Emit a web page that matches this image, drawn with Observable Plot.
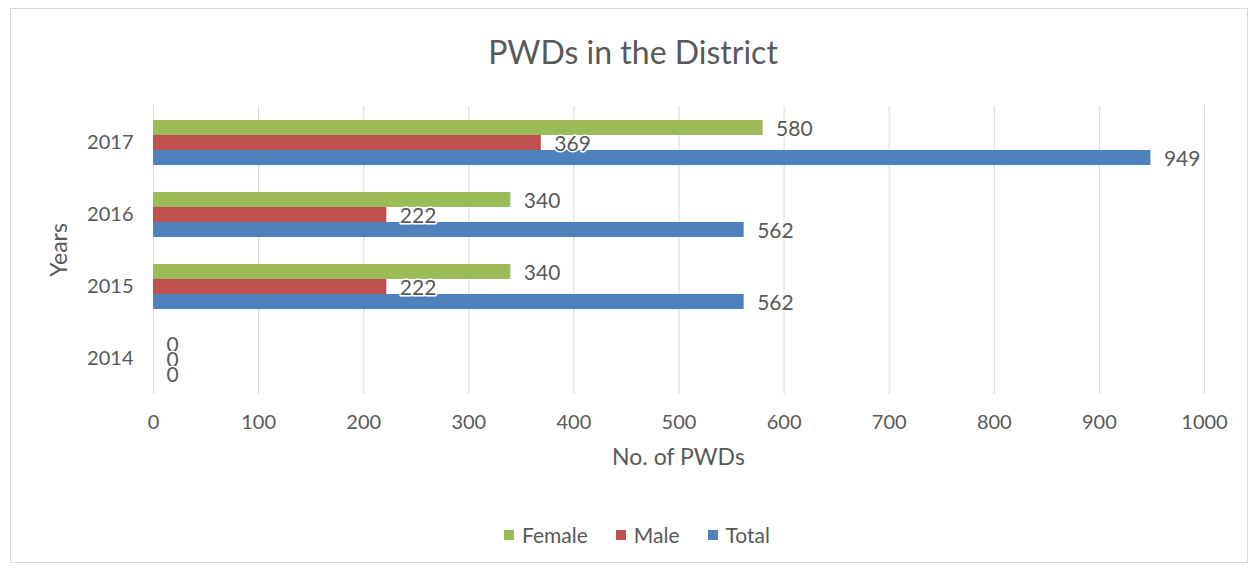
<!DOCTYPE html>
<html>
<head>
<meta charset="utf-8">
<script src="https://cdn.jsdelivr.net/npm/d3@7"></script>
<script src="https://cdn.jsdelivr.net/npm/@observablehq/plot@0.6"></script>
<style>
  html, body { margin: 0; padding: 0; background: #fff; }
  body { width: 1258px; height: 569px; position: relative; overflow: hidden; font-family: Lato, "Open Sans", sans-serif; color: #595959; }
  #frame { position: absolute; left: 10px; top: 8px; width: 1238px; height: 555px; border: 1px solid #d9d9d9; box-sizing: border-box; }
  #title { position: absolute; left: 0; top: 32px; width: 1266px; text-align: center; font-size: 32px; line-height: 40px; color: #595959; }
  #chart { position: absolute; left: 0; top: 100px; }
  #legend { position: absolute; left: 0; top: 522px; width: 1274px; display: flex; justify-content: center; gap: 28px; font-size: 21px; line-height: 26px; color: #595959; }
  #legend .item { display: flex; align-items: center; gap: 8px; }
  #legend .sw { width: 10px; height: 10px; display: inline-block; }
</style>
</head>
<body>
<div id="frame"></div>
<div id="title">PWDs in the District</div>
<div id="chart"></div>
<div id="legend"></div>
<script>
// Persons with disabilities per year, by group
const years = ["2014", "2015", "2016", "2017"];
const female = [0, 340, 340, 580];
const male = [0, 222, 222, 369];
const total = [0, 562, 562, 949];

const series = ["Female", "Male", "Total"];
const colors = ["#9bbb59", "#c0504d", "#4f81bd"];
const xTicks = [0, 100, 200, 300, 400, 500, 600, 700, 800, 900, 1000];

const rows = years.flatMap((year, i) => [
  {year, series: "Female", value: female[i]},
  {year, series: "Male", value: male[i]},
  {year, series: "Total", value: total[i]}
]);

const chart = Plot.plot({
  width: 1258,
  height: 380,
  marginLeft: 153,
  marginRight: 54,
  marginTop: 6,
  marginBottom: 86,
  style: {fontFamily: "Lato, 'Open Sans', sans-serif", color: "#595959", fontSize: "20px", background: "transparent"},
  x: {domain: [0, 1000]},
  y: {domain: series, paddingInner: 0, paddingOuter: 0.9, axis: null},
  fy: {domain: [...years].reverse(), padding: 0, axis: null},
  color: {domain: series, range: colors},
  marks: [
    Plot.gridX(xTicks, {stroke: "#d9d9d9", strokeOpacity: 1, strokeWidth: 1}),
    Plot.axisX(xTicks, {
      tickSize: 0, tickPadding: 20, fontSize: 20, tickFormat: d => String(d),
      label: null
    }),
    Plot.axisFy({
      anchor: "left",
      tickSize: 0, tickPadding: 20, fontSize: 20,
      label: null
    }),
    Plot.barX(rows, {x: "value", y: "series", fy: "year", fill: "series"}),
    Plot.text(rows, {
      x: "value", y: "series", fy: "year",
      text: d => String(d.value),
      textAnchor: "start", dx: 13, dy: 1, fontSize: 21,
      fill: "#595959", stroke: "white", strokeWidth: 3
    })
  ]
});

// Axis titles, placed in the SVG's own coordinates
const svg = d3.select(chart);
svg.append("text")
  .attr("x", (153 + 1204) / 2).attr("y", 365)
  .attr("text-anchor", "middle")
  .attr("fill", "#595959").attr("font-size", 23)
  .text("No. of PWDs");
svg.append("text")
  .attr("transform", `translate(67, ${(6 + 294) / 2}) rotate(-90)`)
  .attr("text-anchor", "middle")
  .attr("fill", "#595959").attr("font-size", 23)
  .text("Years");

document.getElementById("chart").appendChild(chart);

// Legend below the chart
const legend = document.getElementById("legend");
series.forEach((s, i) => {
  const item = document.createElement("span");
  item.className = "item";
  const sw = document.createElement("span");
  sw.className = "sw";
  sw.style.background = colors[i];
  const label = document.createElement("span");
  label.textContent = s;
  item.appendChild(sw);
  item.appendChild(label);
  legend.appendChild(item);
});
</script>
</body>
</html>
